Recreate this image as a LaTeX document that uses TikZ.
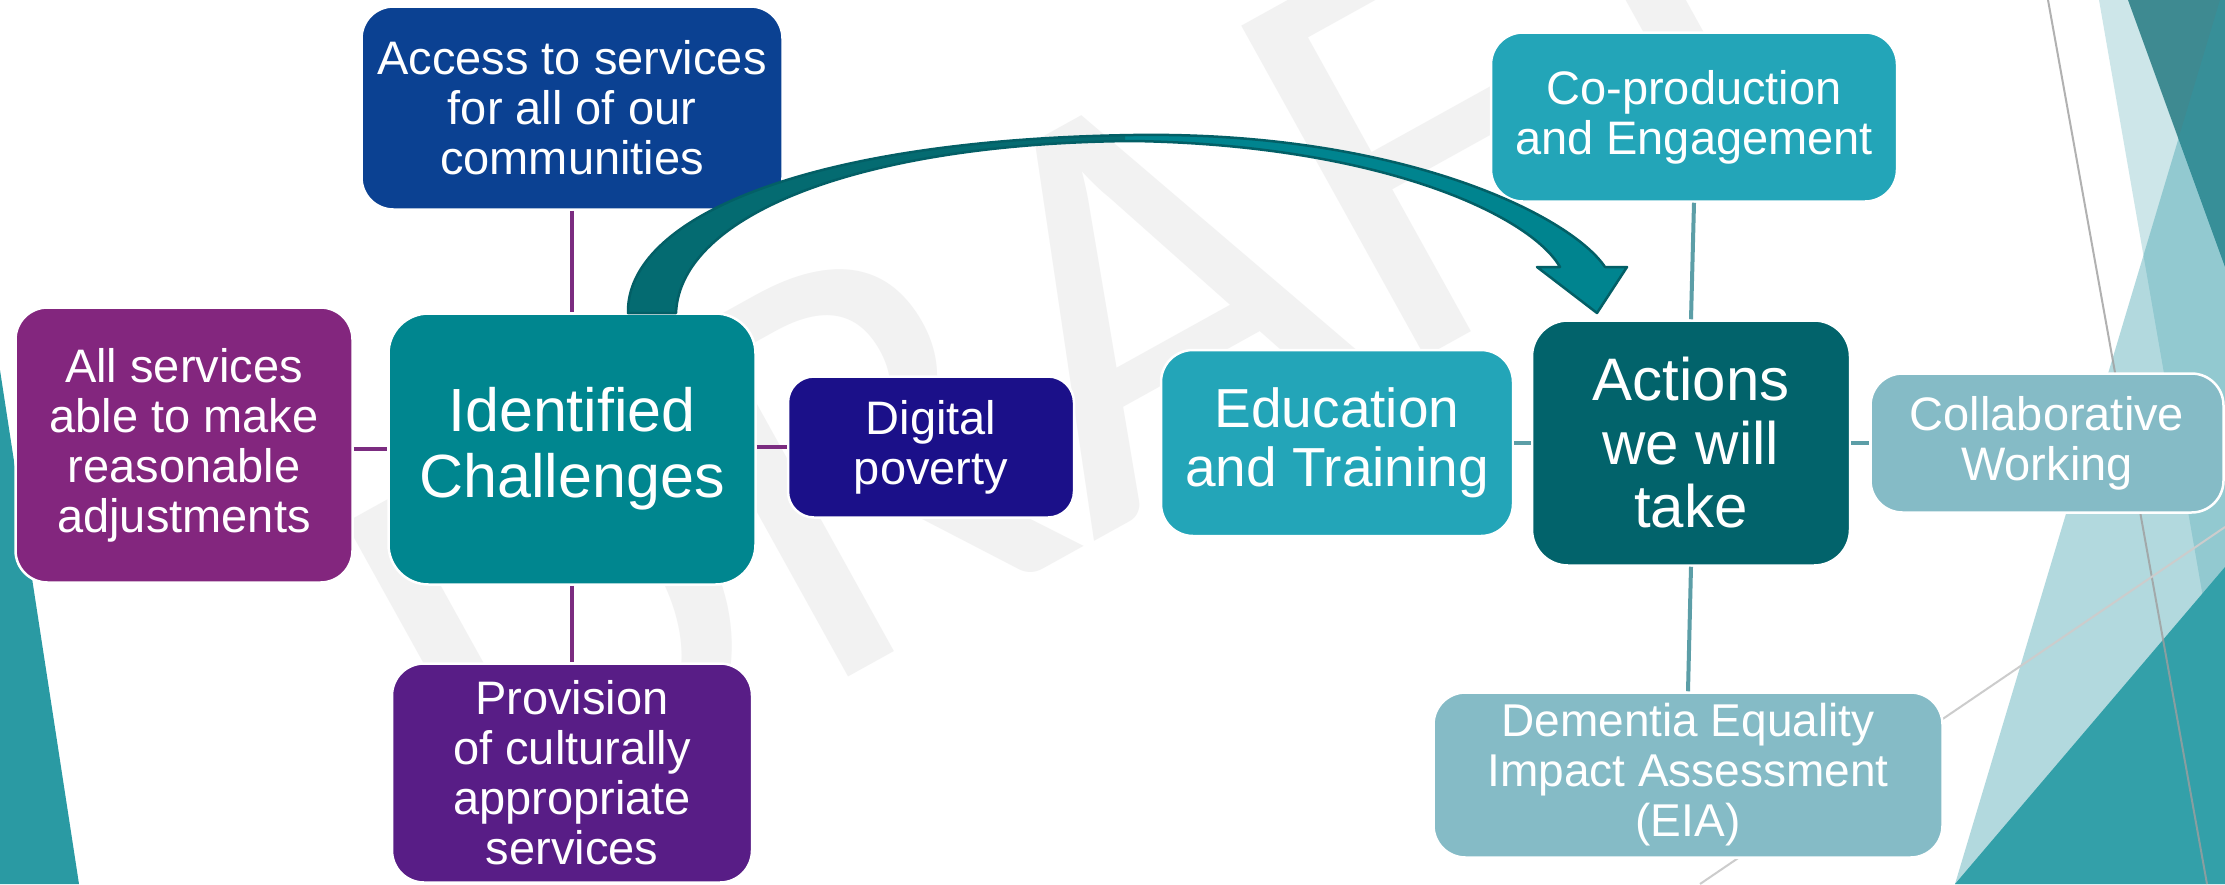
\documentclass[tikz,border=0pt]{standalone}
\usepackage{fontspec}
\setmainfont{Liberation Sans}
\newfontfamily\markfont{Carlito}
\definecolor{accessblue}{HTML}{0B4192}
\definecolor{svcpurple}{HTML}{83267E}
\definecolor{identteal}{HTML}{00868F}
\definecolor{provpurple}{HTML}{581D86}
\definecolor{digitalnavy}{HTML}{1B1089}
\definecolor{lightteal}{HTML}{23A5B8}
\definecolor{actionsteal}{HTML}{02636B}
\definecolor{paleteal}{HTML}{85BBC6}
\definecolor{linkpurple}{HTML}{7B2C80}
\definecolor{linkteal}{HTML}{5C9EA7}
\definecolor{arrowdark}{HTML}{046B71}
\definecolor{arrowlight}{HTML}{00848F}
\definecolor{arrowedge}{HTML}{035F66}
\definecolor{wmgray}{HTML}{F2F2F2}
\definecolor{facetA}{HTML}{CDE6E9}
\definecolor{facetD}{HTML}{3E8A91}
\definecolor{facetC}{HTML}{2C98A6}
\definecolor{facetE}{HTML}{33A0A9}
\definecolor{leftteal}{HTML}{2A9AA3}
% outline of the curved block arrow: outer edge, head, inner edge
\newcommand\arrowbandpath{(628,313) .. controls (626,220) and (800,140) .. (1133,135)
 .. controls (1400,131) and (1570,215) .. (1605,267)
 -- (1627,267) -- (1597,313) -- (1537,267) -- (1560,267)
 .. controls (1530,215) and (1380,145) .. (1133,141)
 .. controls (860,143) and (680,215) .. (676,313) -- cycle}
\begin{document}
\begin{tikzpicture}[x=1pt,y=-1pt,
  box/.style={rounded corners=32pt, draw=white, line width=2.5pt, text=white,
    align=center, inner sep=0pt, font=\fontsize{47}{50}\selectfont},
  linkp/.style={draw=linkpurple, line width=4pt},
  linkt/.style={draw=linkteal, line width=4pt},
  greyline/.style={line width=2pt}]
\useasboundingbox (0,0) rectangle (2225,884);
\clip (0,0) rectangle (2225,884);
\fill[white] (0,0) rectangle (2225,884);

% watermark
\node[rotate=29, anchor=base, text=wmgray, inner sep=0pt,
  font=\markfont\fontsize{590}{590}\selectfont] (wm) at (1187,490) {DRAFT};

% facets at the left and right edges
\fill[leftteal] (0,370) -- (79,884) -- (0,884) -- cycle;
\fill[facetA] (2099,0) -- (2225,724) -- (2225,0) -- cycle;
\fill[facetD] (2128,0) -- (2225,267) -- (2225,0) -- cycle;
\fill[facetC, opacity=0.36] (2220,0) -- (1955,884) -- (2225,884) -- (2225,0) -- cycle;
\fill[facetE] (2225,567) -- (1955,884) -- (2225,884) -- cycle;
\draw[greyline, draw=black!38, opacity=0.8] (2048,0) -- (2207,884);
\draw[greyline, draw=black!20] (2225,527) -- (1700,884);

% boxes
\node[box, fill=accessblue, minimum width=421pt, minimum height=203pt] (access) at (572,108) {Access to services\\for all of our\\communities};
\node[box, fill=svcpurple, minimum width=337pt, minimum height=275pt] (allsvc) at (184,445) {All services\\able to make\\reasonable\\adjustments};
\node[box, fill=identteal, rounded corners=40pt, minimum width=367pt, minimum height=271pt,
  font=\fontsize{61}{66}\selectfont] (ident) at (572,449) {Identified\\Challenges};
\node[box, fill=provpurple, minimum width=360pt, minimum height=219pt] (prov) at (572,773) {Provision\\of culturally\\appropriate\\services};
\node[box, fill=digitalnavy, rounded corners=26pt, minimum width=286pt, minimum height=141pt] (digital) at (931,447) {Digital\\poverty};

\node[box, fill=lightteal, minimum width=406pt, minimum height=169pt] (coprod) at (1694,117) {Co-production\\and Engagement};
\node[box, fill=actionsteal, rounded corners=36pt, minimum width=318pt, minimum height=245pt,
  font=\fontsize{60}{63.5}\selectfont] (actions) at (1691,443) {Actions\\we will\\take};
\node[box, fill=lightteal, minimum width=352pt, minimum height=186pt,
  font=\fontsize{55}{59}\selectfont] (educ) at (1337,443) {Education\\and Training};
\node[box, fill=paleteal, minimum width=353pt, minimum height=139pt] (collab) at (2047,443) {Collaborative\\Working};
\node[box, fill=paleteal, minimum width=509pt, minimum height=165pt,
  font=\fontsize{46}{50}\selectfont] (dementia) at (1688,775) {Dementia Equality\\Impact Assessment\\(EIA)};

% connectors
\draw[linkp] (access.south) -- (ident.north);
\draw[linkp] (ident.south) -- (prov.north);
\draw[linkp] (allsvc.east |- ident.west) -- (ident.west);
\draw[linkp] (ident.east |- digital.west) -- (digital.west);
\draw[linkt] (coprod.south) -- (actions.north);
\draw[linkt] (actions.south) -- (dementia.north);
\draw[linkt] (educ.east) -- (actions.west);
\draw[linkt] (actions.east) -- (collab.west);

% curved block arrow from the challenges to the actions
\fill[arrowlight] \arrowbandpath;
\begin{scope}
  \clip (0,0) rectangle (1125,884);
  \fill[arrowdark] \arrowbandpath;
\end{scope}
\draw[arrowedge, line width=2.5pt, line join=round] \arrowbandpath;
\end{tikzpicture}
\end{document}
